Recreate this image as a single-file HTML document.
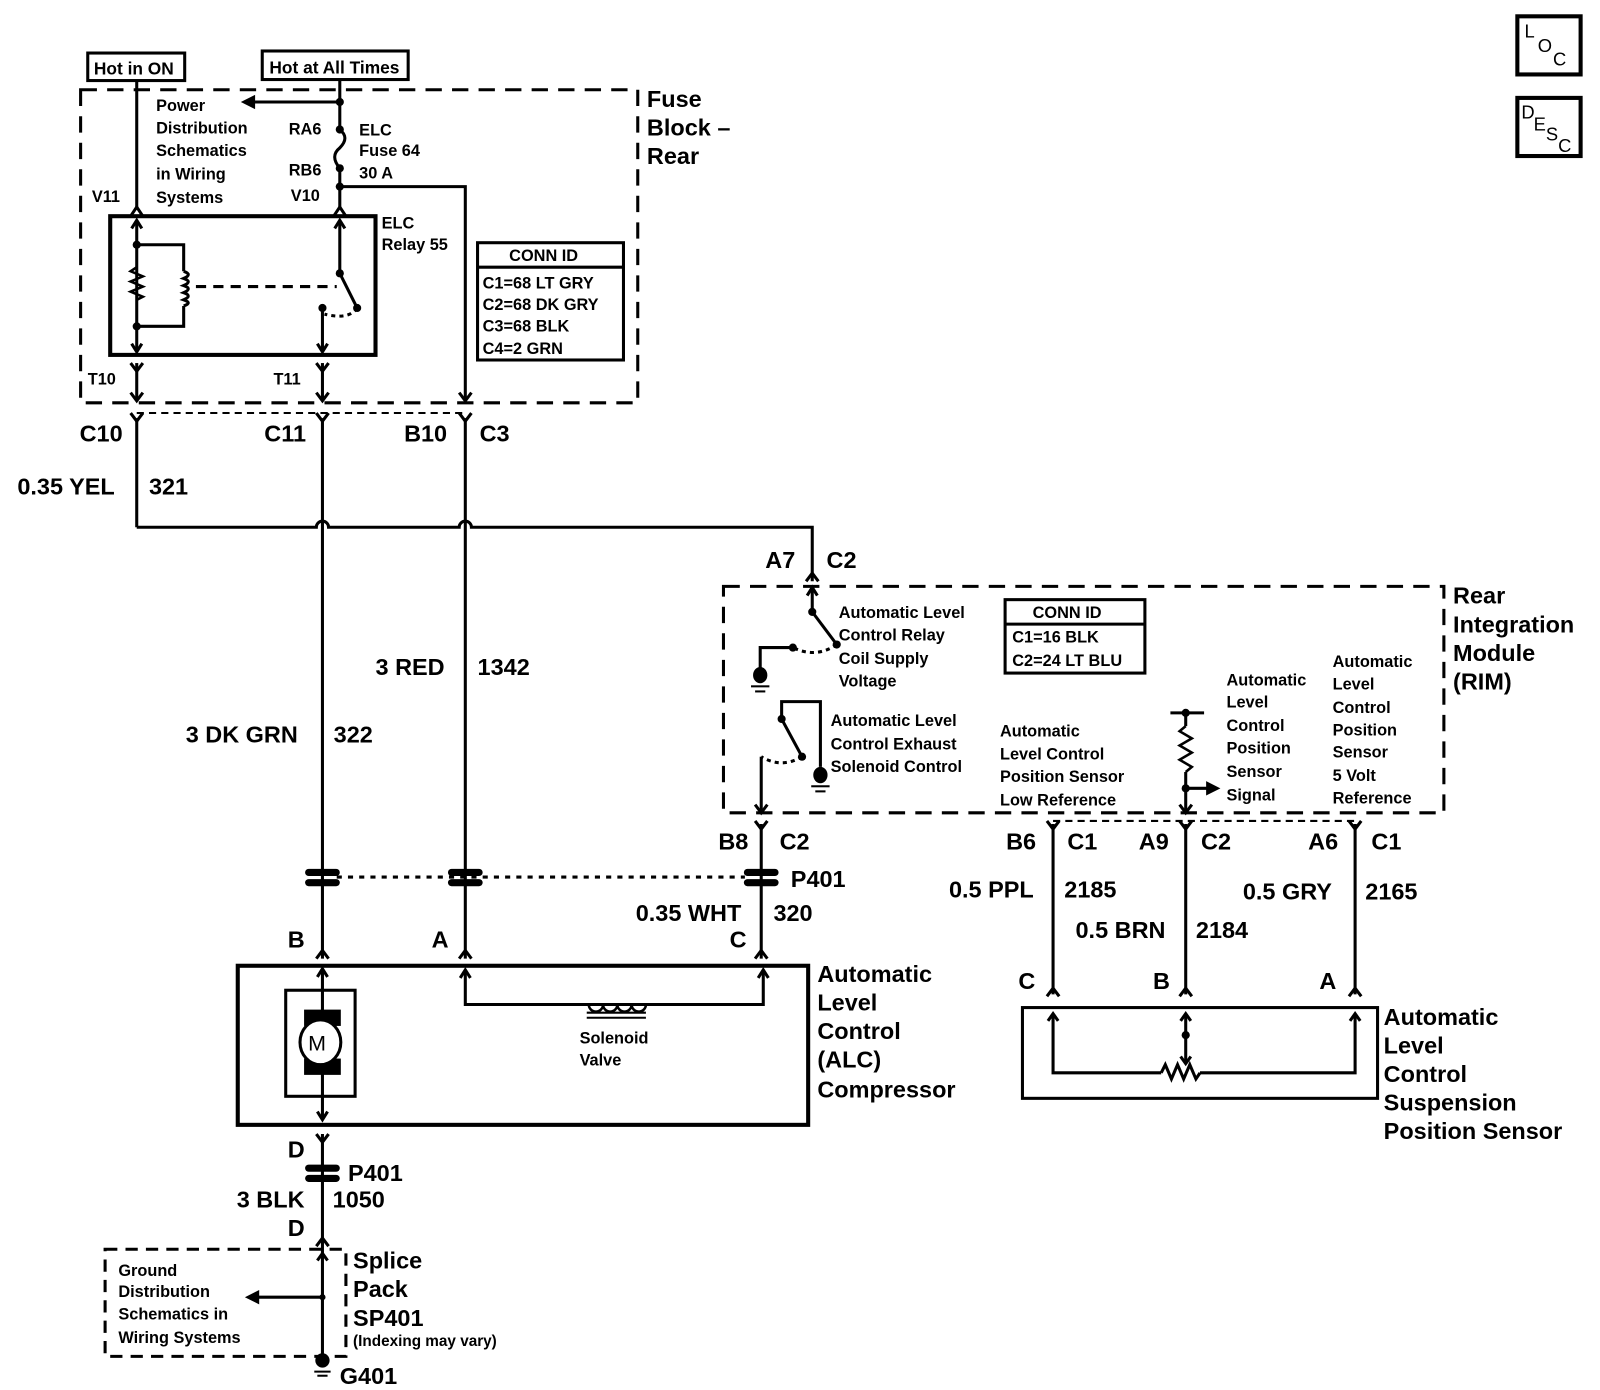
<!DOCTYPE html>
<html><head><meta charset="utf-8"><style>
html,body{margin:0;padding:0;background:#fff;}
svg{display:block;}
text{font-family:"Liberation Sans",Arial,sans-serif;fill:#000;font-weight:bold;}
.s{font-size:16px;}
.m{font-size:17px;}
.b{font-size:23px;}
</style></head><body>
<svg width="1600" height="1390" viewBox="0 0 1568 1363" preserveAspectRatio="none" xmlns="http://www.w3.org/2000/svg">
<g fill="none" stroke="#000" stroke-width="3">
<rect x="86" y="52" width="95" height="27"/>
<rect x="257" y="50" width="143" height="28"/>
<rect x="79" y="88" width="546" height="307" stroke-dasharray="16,10"/>
<line x1="134" y1="79" x2="134" y2="205"/>
<polyline points="128,212 134,203 140,212"/>
<rect x="108" y="212" width="260" height="136" stroke-width="4"/>
<line x1="134" y1="216" x2="134" y2="345"/>
<polyline points="129,224 134,216 139,224"/><polyline points="129,337 134,345 139,337"/>
<polyline points="134,240 180,240 180,266"/>
<path d="M180,266 q9,3 0,7 q9,3 0,7 q9,3 0,7 q9,3 0,7 q9,3 0,6"/>
<polyline points="180,300 180,320 134,320"/>
<path d="M134,262 l-6,4 l12,5 l-12,5 l12,5 l-12,5 l12,5 l-6,3" stroke-width="2.5"/>
<line x1="192" y1="281" x2="330" y2="281" stroke-dasharray="10,7"/>
<line x1="333" y1="216" x2="333" y2="268"/>
<polyline points="328,224 333,216 338,224"/>
<line x1="333" y1="268" x2="350" y2="302"/>
<path d="M350,302 q-8,12 -32,6" stroke-dasharray="4,4"/>
<line x1="316" y1="302" x2="316" y2="345"/>
<polyline points="311,337 316,345 321,337"/>
<line x1="333" y1="78" x2="333" y2="127"/>
<line x1="333" y1="100" x2="248" y2="100"/>
<path d="M333,127 q10,8 0,18 q-10,8 0,20"/>
<line x1="333" y1="165" x2="333" y2="205"/>
<polyline points="327,212 333,203 339,212"/>
<polyline points="333,183 456,183 456,393"/>
<polyline points="450,385 456,393 462,385"/>
<line x1="134" y1="356" x2="134" y2="393"/><polyline points="128,356 134,364 140,356"/><polyline points="128,385 134,393 140,385"/>
<line x1="316" y1="356" x2="316" y2="393"/><polyline points="310,356 316,364 322,356"/><polyline points="310,385 316,393 322,385"/>
<rect x="468" y="238" width="143" height="115"/>
<line x1="468" y1="262" x2="611" y2="262"/>
<line x1="134" y1="405" x2="456" y2="405" stroke-dasharray="7,5" stroke-width="2"/>
<polyline points="128,405 134,413 140,405"/><polyline points="310,405 316,413 322,405"/><polyline points="450,405 456,413 462,405"/>
<line x1="134" y1="410" x2="134" y2="517"/>
<path d="M134,517 H310 a6,6 0 0 1 12,0 H450 a6,6 0 0 1 12,0 H796 V570"/>
<polyline points="790,570 796,562 802,570"/>
<line x1="316" y1="410" x2="316" y2="940"/>
<line x1="456" y1="410" x2="456" y2="940"/>
<rect x="709" y="575" width="706" height="222" stroke-dasharray="16,10"/>
<line x1="796" y1="575" x2="796" y2="600"/><polyline points="791,584 796,576 801,584"/>
<line x1="796" y1="600" x2="820" y2="632"/>
<path d="M820,632 q-20,14 -43,3" stroke-dasharray="4,4"/>
<polyline points="777,635 745,635 745,656"/>
<polyline points="804,752 804,688 766,688 766,705 786,742"/>
<path d="M786,742 q-20,12 -40,0" stroke-dasharray="4,4"/>
<line x1="746" y1="742" x2="746" y2="797"/><polyline points="740,789 746,797 752,789"/>
<rect x="985" y="588" width="137" height="72"/>
<line x1="985" y1="612" x2="1122" y2="612"/>
<line x1="1147" y1="699" x2="1180" y2="699"/>
<line x1="1162" y1="699" x2="1162" y2="712"/>
<path d="M1162,712 l-6,5 l12,7 l-12,7 l12,7 l-12,7 l12,7 l-6,5" stroke-width="2.5"/>
<line x1="1162" y1="757" x2="1162" y2="797"/>
<polyline points="1156,789 1162,797 1168,789"/>
<line x1="1162" y1="773" x2="1185" y2="773"/>
<line x1="1032" y1="805" x2="1328" y2="805" stroke-dasharray="7,5" stroke-width="2"/>
<polyline points="740,805 746,813 752,805"/><polyline points="1026,805 1032,813 1038,805"/><polyline points="1156,805 1162,813 1168,805"/><polyline points="1322,805 1328,813 1334,805"/>
<line x1="746" y1="808" x2="746" y2="940"/>
<line x1="1032" y1="808" x2="1032" y2="975"/>
<line x1="1162" y1="808" x2="1162" y2="975"/>
<line x1="1328" y1="808" x2="1328" y2="975"/>
<polyline points="1026,977 1032,969 1038,977"/><polyline points="1156,977 1162,969 1168,977"/><polyline points="1322,977 1328,969 1334,977"/>
<line x1="330" y1="860" x2="730" y2="860" stroke-dasharray="5,6"/>
<polyline points="310,940 316,932 322,940"/><polyline points="450,940 456,932 462,940"/><polyline points="740,940 746,932 752,940"/>
<rect x="233" y="947" width="559" height="156" stroke-width="4"/>
<rect x="280" y="971" width="68" height="104"/>
<line x1="316" y1="950" x2="316" y2="1098"/>
<polyline points="311,958 316,950 321,958"/><polyline points="311,1090 316,1098 321,1090"/>
<polyline points="456,951 456,985 748,985 748,951"/>
<polyline points="451,959 456,951 461,959"/><polyline points="743,959 748,951 753,959"/>
<path d="M577,985 a7,7 0 0 0 14,0 a7,7 0 0 0 14,0 a7,7 0 0 0 14,0 a7,7 0 0 0 14,0" stroke-width="2.5"/>
<line x1="575" y1="993" x2="633" y2="993" stroke-width="2"/>
<line x1="575" y1="998" x2="633" y2="998" stroke-width="2"/>
<rect x="1002" y="988" width="348" height="89"/>
<polyline points="1032,994 1032,1052 1138,1052"/>
<path d="M1138,1052 l4,-8 l6,14 l6,-14 l6,14 l6,-14 l6,14 l4,-6"/>
<polyline points="1176,1052 1328,1052 1328,994"/>
<polyline points="1027,1001 1032,994 1037,1001"/><polyline points="1323,1001 1328,994 1333,1001"/>
<line x1="1162" y1="994" x2="1162" y2="1043"/>
<polyline points="1157,1001 1162,994 1167,1001"/><polyline points="1157,1036 1162,1043 1167,1036"/>
<polyline points="310,1112 316,1120 322,1112"/>
<line x1="316" y1="1112" x2="316" y2="1330"/>
<polyline points="310,1222 316,1214 322,1222"/>
<polyline points="311,1236 316,1229 321,1236"/>
<rect x="103" y="1225" width="236" height="105" stroke-dasharray="12,8"/>
<line x1="316" y1="1272" x2="252" y2="1272"/>
<line x1="308" y1="1345" x2="324" y2="1345" stroke-width="2"/>
<line x1="311" y1="1349" x2="321" y2="1349" stroke-width="2"/>
<rect x="1487" y="16" width="62" height="57" stroke-width="4"/>
<rect x="1487" y="96" width="62" height="57" stroke-width="4"/>
</g>
<g fill="#000">
<polygon points="236,100 250,93 250,107"/>
<polygon points="1196,773 1182,766 1182,780"/>
<polygon points="240,1272 254,1265 254,1279"/>
<circle cx="333" cy="100" r="4"/><circle cx="333" cy="127" r="4"/><circle cx="333" cy="165" r="4"/><circle cx="333" cy="183" r="4"/>
<circle cx="134" cy="240" r="4"/><circle cx="134" cy="320" r="4"/><circle cx="333" cy="268" r="4"/><circle cx="350" cy="302" r="4"/><circle cx="316" cy="302" r="4"/>
<circle cx="796" cy="600" r="4"/><circle cx="820" cy="632" r="4"/><circle cx="777" cy="635" r="4"/>
<circle cx="766" cy="705" r="4"/><circle cx="786" cy="742" r="4"/>
<circle cx="1162" cy="699" r="4"/><circle cx="1162" cy="773" r="4"/><circle cx="1162" cy="1015" r="4"/>
<circle cx="316" cy="1272" r="3"/>
<ellipse cx="745" cy="662" rx="7" ry="8"/><rect x="736" y="672" width="18" height="2"/><rect x="740" y="677" width="10" height="2"/>
<ellipse cx="804" cy="760" rx="7" ry="8"/><rect x="795" y="770" width="18" height="2"/><rect x="799" y="775" width="10" height="2"/>
<ellipse cx="316" cy="1334" rx="7" ry="7"/>
<rect x="298" y="990" width="36" height="16"/><rect x="298" y="1038" width="36" height="16"/>
<rect x="299" y="852" width="34" height="7" rx="3.5"/><rect x="299" y="862" width="34" height="7" rx="3.5"/>
<rect x="439" y="852" width="34" height="7" rx="3.5"/><rect x="439" y="862" width="34" height="7" rx="3.5"/>
<rect x="729" y="852" width="34" height="7" rx="3.5"/><rect x="729" y="862" width="34" height="7" rx="3.5"/>
<rect x="299" y="1142" width="34" height="7" rx="3.5"/><rect x="299" y="1152" width="34" height="7" rx="3.5"/>
</g>
<ellipse cx="314" cy="1022" rx="20" ry="22" fill="#fff" stroke="#000" stroke-width="3"/>
<text x="302" y="1030" font-size="21" style="font-weight:normal">M</text>

<text class="m" x="92" y="73">Hot in ON</text>
<text class="m" x="264" y="72">Hot at All Times</text>
<text class="b" x="634" y="105">Fuse</text><text class="b" x="634" y="133">Block –</text><text class="b" x="634" y="161">Rear</text>
<g class="s">
<text x="153" y="109">Power</text><text x="153" y="131">Distribution</text><text x="153" y="153">Schematics</text><text x="153" y="176">in Wiring</text><text x="153" y="199">Systems</text>
<text x="90" y="198">V11</text><text x="283" y="132">RA6</text><text x="283" y="172">RB6</text><text x="285" y="197">V10</text>
<text x="352" y="133">ELC</text><text x="352" y="153">Fuse 64</text><text x="352" y="175">30 A</text>
<text x="374" y="224">ELC</text><text x="374" y="245">Relay 55</text>
<text x="499" y="256">CONN ID</text>
<text x="473" y="283">C1=68 LT GRY</text><text x="473" y="304">C2=68 DK GRY</text><text x="473" y="325">C3=68 BLK</text><text x="473" y="347">C4=2 GRN</text>
<text x="86" y="377">T10</text><text x="268" y="377">T11</text>
<text x="1012" y="606">CONN ID</text>
<text x="992" y="630">C1=16 BLK</text><text x="992" y="653">C2=24 LT BLU</text>
<text x="822" y="606">Automatic Level</text><text x="822" y="628">Control Relay</text><text x="822" y="651">Coil Supply</text><text x="822" y="673">Voltage</text>
<text x="814" y="712">Automatic Level</text><text x="814" y="735">Control Exhaust</text><text x="814" y="757">Solenoid Control</text>
<text x="980" y="722">Automatic</text><text x="980" y="745">Level Control</text><text x="980" y="767">Position Sensor</text><text x="980" y="790">Low Reference</text>
<text x="1202" y="672">Automatic</text><text x="1202" y="694">Level</text><text x="1202" y="717">Control</text><text x="1202" y="739">Position</text><text x="1202" y="762">Sensor</text><text x="1202" y="785">Signal</text>
<text x="1306" y="654">Automatic</text><text x="1306" y="676">Level</text><text x="1306" y="699">Control</text><text x="1306" y="721">Position</text><text x="1306" y="743">Sensor</text><text x="1306" y="766">5 Volt</text><text x="1306" y="788">Reference</text>
<text x="568" y="1023">Solenoid</text><text x="568" y="1045">Valve</text>
<text x="116" y="1251">Ground</text><text x="116" y="1272">Distribution</text><text x="116" y="1294">Schematics in</text><text x="116" y="1317">Wiring Systems</text>
<text x="346" y="1320" font-size="15">(Indexing may vary)</text>
</g>
<g class="b">
<text x="78" y="433">C10</text><text x="259" y="433">C11</text><text x="396" y="433">B10</text><text x="470" y="433">C3</text>
<text x="17" y="485">0.35 YEL</text><text x="146" y="485">321</text>
<text x="368" y="662">3 RED</text><text x="468" y="662">1342</text>
<text x="182" y="728">3 DK GRN</text><text x="327" y="728">322</text>
<text x="750" y="557">A7</text><text x="810" y="557">C2</text>
<text x="1424" y="592">Rear</text><text x="1424" y="620">Integration</text><text x="1424" y="648">Module</text><text x="1424" y="676">(RIM)</text>
<text x="704" y="833">B8</text><text x="764" y="833">C2</text>
<text x="986" y="833">B6</text><text x="1046" y="833">C1</text>
<text x="1116" y="833">A9</text><text x="1177" y="833">C2</text>
<text x="1282" y="833">A6</text><text x="1344" y="833">C1</text>
<text x="775" y="870">P401</text>
<text x="623" y="903">0.35 WHT</text><text x="758" y="903">320</text>
<text x="930" y="880">0.5 PPL</text><text x="1043" y="880">2185</text>
<text x="1218" y="882">0.5 GRY</text><text x="1338" y="882">2165</text>
<text x="1054" y="920">0.5 BRN</text><text x="1172" y="920">2184</text>
<text x="282" y="929">B</text><text x="423" y="929">A</text><text x="715" y="929">C</text>
<text x="998" y="970">C</text><text x="1130" y="970">B</text><text x="1293" y="970">A</text>
<text x="801" y="963">Automatic</text><text x="801" y="991">Level</text><text x="801" y="1019">Control</text><text x="801" y="1047">(ALC)</text><text x="801" y="1076">Compressor</text>
<text x="1356" y="1005">Automatic</text><text x="1356" y="1033">Level</text><text x="1356" y="1061">Control</text><text x="1356" y="1089">Suspension</text><text x="1356" y="1117">Position Sensor</text>
<text x="282" y="1135">D</text><text x="341" y="1158">P401</text>
<text x="232" y="1184">3 BLK</text><text x="326" y="1184">1050</text>
<text x="282" y="1212">D</text>
<text x="346" y="1244">Splice</text><text x="346" y="1272">Pack</text><text x="346" y="1300">SP401</text>
<text x="333" y="1357">G401</text>
</g>
<g font-size="18">
<text x="1494" y="37" style="font-weight:normal">L</text><text x="1507" y="51" style="font-weight:normal">O</text><text x="1522" y="64" style="font-weight:normal">C</text>
<text x="1491" y="116" style="font-weight:normal">D</text><text x="1503" y="128" style="font-weight:normal">E</text><text x="1515" y="138" style="font-weight:normal">S</text><text x="1527" y="149" style="font-weight:normal">C</text>
</g>
</svg>
</body></html>
